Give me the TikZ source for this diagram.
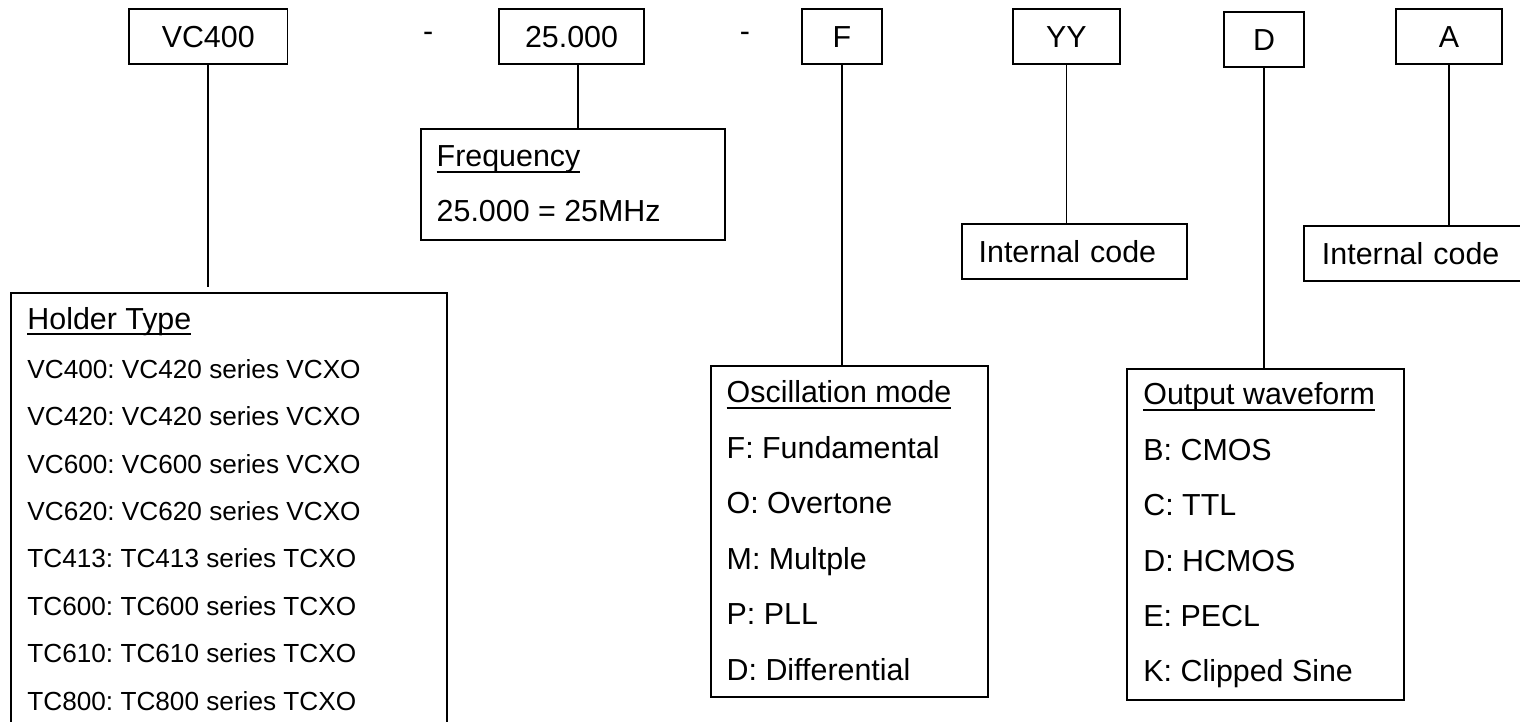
\documentclass[tikz,border=0pt]{standalone}
\usepackage{fontspec}
\setmainfont{Liberation Sans}
\frenchspacing
\newsavebox\titlebox
\newcommand\boxtitle[1]{\sbox\titlebox{#1}\rlap{\rule[-0.06cm]{\wd\titlebox}{0.02cm}}\usebox\titlebox}

\begin{document}
\begin{tikzpicture}[x=1cm, y=-1cm,
		code/.style={draw, line width=0.55pt, inner sep=0pt, minimum height=0.547cm, font=\fontsize{8.65}{10}\selectfont},
		panel/.style={draw, line width=0.55pt, inner sep=0pt, anchor=north west, font=\fontsize{8.65}{10}\selectfont},
		txt/.style={anchor=base west, inner sep=0pt, font=\fontsize{8.65}{10}\selectfont},
		small/.style={anchor=base west, inner sep=0pt, font=\fontsize{7.45}{9}\selectfont},
		link/.style={line width=0.5pt}]
		%%%%% START %%%%%
		
		\useasboundingbox (0, 0) rectangle (15.2, 7.22);
		
		% part number
		\node[code, minimum width=1.585cm] (vc) at (2.0825, 0.3665) {VC400};
		\node[txt, anchor=base] (dash1) at (4.283, 0.42) {-};
		\node[code, minimum width=1.456cm] (fnum) at (5.715, 0.3665) {25.000};
		\node[txt, anchor=base] (dash2) at (7.45, 0.42) {-};
		\node[code, minimum width=0.80cm] (fmode) at (8.42, 0.3665) {F};
		\node[code, minimum width=1.067cm] (yy) at (10.664, 0.3665) {YY};
		\node[code, minimum width=0.795cm] (wave) at (12.642, 0.3965) {D};
		\node[code, minimum width=1.06cm] (inc) at (14.49, 0.3665) {A};
		
		% explanation boxes
		\node[panel, minimum width=4.36cm, minimum height=4.6cm] (holder) at (0.10, 2.92) {};
		\node[panel, minimum width=3.039cm, minimum height=1.104cm] (freq) at (4.198, 1.283) {};
		\node[panel, minimum height=0.55cm, inner xsep=0.17cm, text width=1.909cm, align=left] (int1) at (9.607, 2.227) {Internal code};
		\node[panel, minimum width=2.772cm, minimum height=3.31cm] (osc) at (7.098, 3.65) {};
		\node[panel, minimum width=2.776cm, minimum height=3.31cm] (out) at (11.257, 3.677) {};
		\node[panel, minimum height=0.55cm, inner xsep=0.176cm, text width=2.048cm, align=left] (int2) at (13.034, 2.25) {Internal code};
		
		\draw[link, shorten >=0.05cm] (vc.south) -- (vc.south |- holder.north);
		\draw[link] ([xshift=0.065cm]fnum.south) -- ([xshift=0.065cm]fnum.south |- freq.north);
		\draw[link] (fmode.south) -- (fmode.south |- osc.north);
		\draw[link] (yy.south) -- (yy.south |- int1.north);
		\draw[link] (wave.south) -- (wave.south |- out.north);
		\draw[link] (inc.south) -- (inc.south |- int2.north);
		
		% texts
		\node[txt] (freq-t) at (4.36, 1.67) {\boxtitle{Frequency}};
		\node[txt] (freq-1) at (4.36, 2.217) {25.000 = 25MHz};
		
		\node[txt] (hold-t) at (0.267, 3.293) {\boxtitle{Holder Type}};
		\foreach \s [count=\i] in {VC400: VC420 series VCXO, VC420: VC420 series VCXO, VC600: VC600 series VCXO, VC620: VC620 series VCXO, TC413: TC413 series TCXO, TC600: TC600 series TCXO, TC610: TC610 series TCXO, TC800: TC800 series TCXO}
			\node[small] (hold-\i) at (0.267, {3.783+0.474*(\i-1)}) {\s};
		
		\node[txt] (osc-t) at (7.26, 4.027) {\boxtitle{Oscillation mode}};
		\foreach \s [count=\i] in {F: Fundamental, O: Overtone, M: Multple, P: PLL, D: Differential}
			\node[txt] (osc-\i) at (7.26, {4.583+0.5545*(\i-1)}) {\s};
		
		\node[txt] (out-t) at (11.427, 4.05) {\boxtitle{Output waveform}};
		\foreach \s [count=\i] in {B: CMOS, C: TTL, D: HCMOS, E: PECL, K: Clipped Sine}
			\node[txt] (out-\i) at (11.427, {4.607+0.5525*(\i-1)}) {\s};
		
		%%%%% END %%%%%
	\end{tikzpicture}
\end{document}
